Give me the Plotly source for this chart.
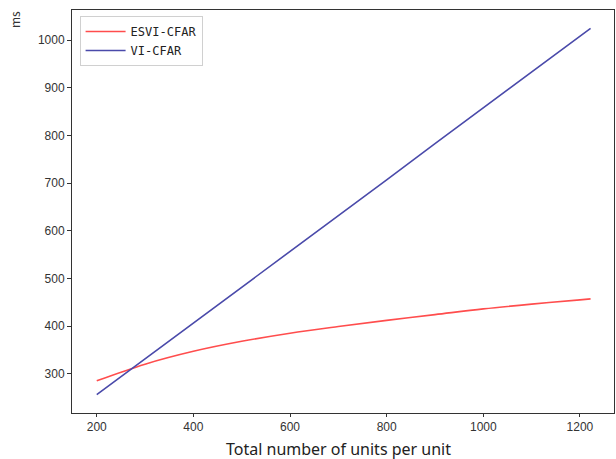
import plotly.graph_objects as go

units = [200, 300, 400, 500, 600, 700, 800, 900, 1000, 1100, 1200, 1222]
esvi_cfar = [285, 320, 347, 368, 385, 399, 412, 424, 436, 446, 455, 457]
vi_cfar = [256, 331, 406, 482, 557, 632, 707, 783, 858, 933, 1008, 1025]

x_ticks = [200, 400, 600, 800, 1000, 1200]
y_ticks = [300, 400, 500, 600, 700, 800, 900, 1000]

fig = go.Figure()
fig.add_trace(go.Scatter(x=units, y=esvi_cfar, mode="lines", name="ESVI-CFAR",
                         line=dict(color="#ff4d4d", width=1.6, shape="spline", smoothing=1.0)))
fig.add_trace(go.Scatter(x=units, y=vi_cfar, mode="lines", name="VI-CFAR",
                         line=dict(color="#4a4aaa", width=1.6)))

tick_font = dict(family="Liberation Sans, Arial, sans-serif", size=12, color="#333333")
plot_h = 459 - 46 - 10
fig.update_layout(
    width=616, height=459,
    margin=dict(l=72, r=2, t=10, b=46),
    paper_bgcolor="white", plot_bgcolor="white",
    showlegend=True,
    legend=dict(x=0.014, y=0.985, xanchor="left", yanchor="top",
                bgcolor="rgba(255,255,255,0.9)", bordercolor="#d0d0d0", borderwidth=1,
                font=dict(family="DejaVu Sans Mono, monospace", size=12, color="#222222"),
                itemwidth=40, tracegroupgap=2),
    xaxis=dict(range=[148.8, 1270.5], tickvals=x_ticks, ticks="outside", ticklen=3,
               tickcolor="#333333", showgrid=False, zeroline=False,
               showline=True, linecolor="#333333", linewidth=1, mirror=True,
               tickfont=tick_font),
    yaxis=dict(range=[217.5, 1063.5], tickvals=y_ticks, ticks="outside", ticklen=4,
               tickcolor="#333333", showgrid=False, zeroline=False,
               showline=True, linecolor="#333333", linewidth=1, mirror=True,
               tickfont=tick_font),
    annotations=[
        dict(text="ms", x=-(72 - 14) / 542, y=(459 - 46 - 20) / plot_h,
             xref="paper", yref="paper", xanchor="center", yanchor="middle",
             showarrow=False, textangle=-90,
             font=dict(family="Noto Sans CJK SC, sans-serif", size=12, color="#333333")),
        dict(text="Total number of units per unit", x=(338 - 72) / 542, y=-46 / plot_h,
             xref="paper", yref="paper", xanchor="center", yanchor="bottom",
             showarrow=False, borderpad=0, yshift=-2,
             font=dict(family="Noto Sans, sans-serif", size=16, color="#222222")),
    ],
)
fig.write_html("out.html")
